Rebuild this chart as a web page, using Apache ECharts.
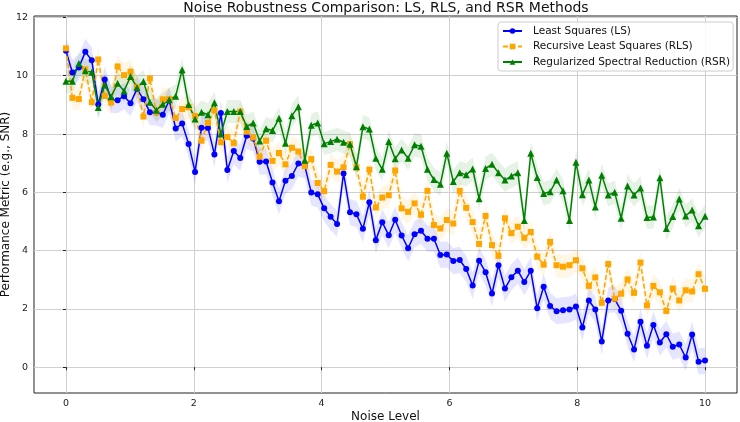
<!DOCTYPE html>
<html>
<head>
<meta charset="utf-8">
<script src="https://cdn.jsdelivr.net/npm/echarts@6/dist/echarts.min.js"></script>
<style>
  html, body { margin: 0; padding: 0; background: #fff; }
  #chart { width: 740px; height: 422px; }
</style>
</head>
<body>
<div id="chart"></div>
<script>
// noise levels: 100 evenly spaced samples from 0 to 10
const noiseLevels = Array.from({ length: 100 }, (_, i) => i * 10 / 99);

const lsValues = [10.86, 10.11, 10.28, 10.82, 10.53, 9.01, 9.87, 9.17, 9.16, 9.3,
  9.06, 9.55, 9.19, 8.75, 8.74, 8.66, 9.16, 8.19, 8.36, 7.66,
  6.7, 8.22, 8.21, 7.3, 8.72, 6.77, 7.42, 7.18, 7.94, 7.85,
  7.05, 7.06, 6.34, 5.69, 6.4, 6.56, 6.99, 6.91, 5.99, 5.93,
  5.45, 5.16, 4.91, 6.65, 5.32, 5.25, 4.75, 5.66, 4.36, 4.97,
  4.53, 5.06, 4.52, 4.08, 4.56, 4.68, 4.41, 4.41, 3.85, 3.87,
  3.64, 3.68, 3.37, 2.8, 3.65, 3.26, 2.53, 3.5, 2.7, 3.09,
  3.31, 2.92, 3.31, 2.02, 2.76, 2.1, 1.92, 1.95, 1.98, 2.08,
  1.36, 2.29, 1.98, 0.88, 2.29, 2.34, 1.94, 1.15, 0.61, 1.56,
  0.74, 1.45, 0.85, 1.13, 0.7, 0.78, 0.33, 1.12, 0.19, 0.23];

const rlsValues = [10.94, 9.24, 9.2, 10.22, 9.09, 10.56, 9.31, 9.08, 10.32, 10.02,
  10.14, 9.6, 8.6, 9.91, 8.74, 9.19, 9.2, 8.55, 8.86, 8.92,
  8.62, 7.77, 8.38, 8.81, 7.72, 7.9, 7.69, 8.77, 8.08, 7.88,
  7.22, 7.77, 7.08, 7.35, 6.96, 7.53, 7.4, 6.9, 7.14, 6.32,
  6.04, 6.94, 6.71, 6.86, 7.65, 6.86, 5.85, 6.78, 5.48, 5.82,
  5.9, 6.75, 5.45, 5.33, 5.62, 5.23, 6.05, 4.88, 4.76, 5.05,
  4.93, 6.05, 5.47, 4.98, 4.23, 5.19, 4.19, 3.82, 5.11, 4.6,
  4.82, 4.44, 4.64, 3.79, 3.52, 4.3, 3.5, 3.45, 3.5, 3.67,
  3.39, 2.79, 3.08, 2.21, 3.54, 2.35, 2.52, 3.01, 2.55, 3.59,
  2.12, 2.79, 2.57, 1.93, 2.7, 2.29, 2.64, 2.6, 3.19, 2.69];

const rsrValues = [9.81, 9.81, 10.42, 10.17, 10.12, 8.91, 9.68, 9.28, 9.74, 9.48,
  9.97, 9.6, 9.8, 9.09, 8.82, 9.02, 9.18, 9.3, 10.21, 9.01,
  8.52, 8.75, 8.66, 9.07, 8.0, 8.77, 8.77, 8.77, 8.26, 8.38,
  7.76, 8.18, 8.12, 8.54, 7.68, 8.63, 8.94, 7.1, 8.3, 8.38,
  7.67, 7.74, 7.82, 7.72, 7.65, 6.88, 8.25, 8.17, 7.17, 6.79,
  7.74, 7.15, 7.45, 7.17, 7.63, 7.58, 6.79, 6.44, 6.28, 7.34,
  6.37, 6.67, 6.6, 6.8, 5.78, 6.82, 6.96, 6.67, 6.42, 6.56,
  6.67, 5.03, 7.34, 6.51, 5.96, 6.02, 6.42, 6.05, 5.03, 7.03,
  5.92, 6.42, 5.5, 6.59, 5.91, 6.0, 5.11, 6.22, 5.91, 6.15,
  5.14, 5.15, 6.5, 4.76, 5.17, 5.77, 5.19, 5.39, 4.85, 5.18];

// half-width of the shaded band around each line
const lsSpread = 0.45;
const rlsSpread = 0.4;
const rsrSpread = 0.4;

const xTicks = [0, 2, 4, 6, 8, 10];
const yTicks = [0, 2, 4, 6, 8, 10, 12];

const FONT = 'DejaVu Sans';

function pairs(vals) {
  return vals.map((v, i) => [noiseLevels[i], v]);
}

// shaded band drawn as one polygon through the axis scales
function bandSeries(id, vals, spread, fill) {
  return {
    id: id,
    type: 'custom',
    silent: true,
    data: [[noiseLevels[0], vals[0]]],
    renderItem: function (params, api) {
      const upper = vals.map((v, i) => api.coord([noiseLevels[i], v + spread]));
      const lower = vals.map((v, i) => api.coord([noiseLevels[i], v - spread])).reverse();
      return {
        type: 'polygon',
        shape: { points: upper.concat(lower) },
        style: { fill: fill }
      };
    }
  };
}

const chart = echarts.init(document.getElementById('chart'));
chart.setOption({
  animation: false,
  title: {
    text: 'Noise Robustness Comparison: LS, RLS, and RSR Methods',
    left: 386,
    top: 1,
    padding: 0,
    textAlign: 'center',
    textStyle: { fontFamily: FONT, fontSize: 14, fontWeight: 'normal', color: '#111' }
  },
  grid: {
    left: 34, right: 3, top: 16, bottom: 29,
    outerBoundsMode: 'none',
    containLabel: false,
    show: true, borderColor: '#222', borderWidth: 1, backgroundColor: 'transparent'
  },
  legend: {
    data: ['Least Squares (LS)', 'Recursive Least Squares (RLS)', 'Regularized Spectral Reduction (RSR)'],
    orient: 'vertical',
    left: 498,
    top: 22,
    padding: [3, 3, 3, 4],
    itemGap: 3.5,
    itemWidth: 19,
    itemHeight: 7,
    backgroundColor: 'rgba(255,255,255,0.85)',
    borderColor: '#cccccc',
    borderWidth: 1,
    borderRadius: 3,
    textStyle: { fontFamily: FONT, fontSize: 10.5, lineHeight: 12, color: '#111', padding: [0, 0, 0, 6] }
  },
  xAxis: {
    type: 'value',
    min: -0.5,
    max: 10.5,
    name: 'Noise Level',
    nameLocation: 'middle',
    nameGap: 18,
    nameMoveOverlap: false,
    nameTextStyle: { fontFamily: FONT, fontSize: 12, color: '#111' },
    axisLine: { show: false },
    axisTick: { show: true, customValues: xTicks, length: 3, lineStyle: { color: '#222' } },
    axisLabel: { customValues: xTicks, margin: 6, fontFamily: FONT, fontSize: 9.5, color: '#222' },
    splitLine: { show: true, lineStyle: { color: '#d0d0d0', width: 1 } }
  },
  yAxis: {
    type: 'value',
    min: -0.885,
    max: 12.05,
    name: 'Performance Metric (e.g., SNR)',
    nameLocation: 'middle',
    nameGap: 22,
    nameMoveOverlap: false,
    nameTextStyle: { fontFamily: FONT, fontSize: 12, color: '#111' },
    axisLine: { show: false },
    axisTick: { show: true, customValues: yTicks, length: 3, lineStyle: { color: '#222' } },
    axisLabel: { customValues: yTicks, margin: 6, fontFamily: FONT, fontSize: 9.5, color: '#222' },
    splitLine: { show: true, lineStyle: { color: '#d0d0d0', width: 1 } }
  },
  series: [
    bandSeries('lsBand', lsValues, lsSpread, 'rgba(0,0,255,0.1)'),
    bandSeries('rlsBand', rlsValues, rlsSpread, 'rgba(255,165,0,0.1)'),
    bandSeries('rsrBand', rsrValues, rsrSpread, 'rgba(0,128,0,0.1)'),
    {
      name: 'Least Squares (LS)',
      type: 'line',
      data: pairs(lsValues),
      symbol: 'circle',
      symbolSize: 6,
      showAllSymbol: true,
      lineStyle: { color: '#0000ff', width: 1.5 },
      itemStyle: { color: '#0000ff' },
      emphasis: { disabled: true }
    },
    {
      name: 'Recursive Least Squares (RLS)',
      type: 'line',
      data: pairs(rlsValues),
      symbol: 'rect',
      symbolSize: 6,
      showAllSymbol: true,
      lineStyle: { color: '#ffa500', width: 1.5, type: [5, 2.5] },
      itemStyle: { color: '#ffa500' },
      emphasis: { disabled: true }
    },
    {
      name: 'Regularized Spectral Reduction (RSR)',
      type: 'line',
      data: pairs(rsrValues),
      symbol: 'triangle',
      symbolSize: 7,
      showAllSymbol: true,
      lineStyle: { color: '#008000', width: 1.5 },
      itemStyle: { color: '#008000' },
      emphasis: { disabled: true }
    }
  ]
});
</script>
</body>
</html>
